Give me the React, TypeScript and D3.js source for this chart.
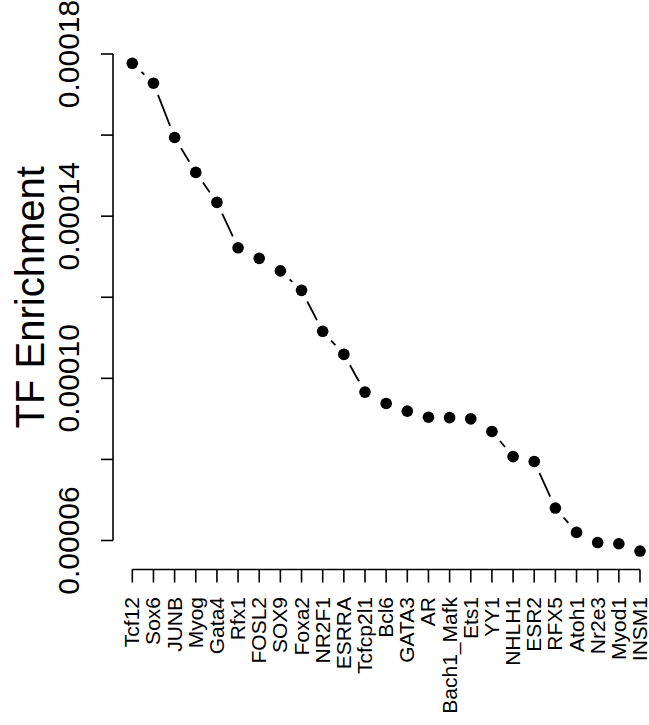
import React from "react";
import * as d3 from "d3";

const categories: string[] = [
  "Tcf12", "Sox6", "JUNB", "Myog", "Gata4", "Rfx1", "FOSL2", "SOX9", "Foxa2",
  "NR2F1", "ESRRA", "Tcfcp2l1", "Bcl6", "GATA3", "AR", "Bach1_Mafk", "Ets1",
  "YY1", "NHLH1", "ESR2", "RFX5", "Atoh1", "Nr2e3", "Myod1", "INSM1",
];

const enrichment: number[] = [
  0.0001777, 0.0001728, 0.0001594, 0.0001508, 0.0001434, 0.0001322, 0.0001296,
  0.0001265, 0.0001217, 0.0001116, 0.0001059, 0.0000966, 0.0000938, 0.0000919,
  0.0000904, 0.0000903, 0.00009, 0.0000869, 0.0000807, 0.0000795, 0.000068,
  0.000062, 0.0000595, 0.0000592, 0.0000574,
];

const yTicks: number[] = [0.00006, 0.00008, 0.0001, 0.00012, 0.00014, 0.00016, 0.00018];
const yTickLabels: string[] = ["0.00006", "", "0.00010", "", "0.00014", "", "0.00018"];

const W = 649;
const H = 725;
const FONT = "'Liberation Sans', Arial, Helvetica, sans-serif";

export default function App() {
  const x = d3.scaleLinear().domain([0, categories.length - 1]).range([132.3, 640]);
  const y = d3.scaleLinear().domain([0.00006, 0.00018]).range([540.5, 54]);

  const axisX = 113;
  const axisY = 569.5;
  const tickLen = 12;
  const gap = 12.5;

  const pts = enrichment.map((v, i) => [x(i), y(v)] as [number, number]);
  const segs: [number, number, number, number][] = [];
  for (let i = 0; i < pts.length - 1; i++) {
    const [x0, y0] = pts[i];
    const [x1, y1] = pts[i + 1];
    const dx = x1 - x0;
    const dy = y1 - y0;
    const len = Math.sqrt(dx * dx + dy * dy);
    if (len > 2 * gap) {
      const ux = dx / len;
      const uy = dy / len;
      segs.push([x0 + ux * gap, y0 + uy * gap, x1 - ux * gap, y1 - uy * gap]);
    }
  }

  return (
    <div style={{ position: "absolute", left: 0, top: 0 }}>
      <svg width={W} height={H} style={{ display: "block", background: "#fff" }}>
        {/* y axis */}
        <line x1={axisX} x2={axisX} y1={y(0.00018)} y2={y(0.00006)} stroke="#000" strokeWidth={1.6} />
        {yTicks.map((t, i) => (
          <g key={"yt" + i}>
            <line x1={axisX - tickLen} x2={axisX} y1={y(t)} y2={y(t)} stroke="#000" strokeWidth={1.6} />
            {yTickLabels[i] && (
              <text
                transform={`translate(79,${y(t)}) rotate(-90)`}
                textAnchor="middle"
                fontFamily={FONT}
                fontSize={30}
                fill="#000"
              >
                {yTickLabels[i]}
              </text>
            )}
          </g>
        ))}
        <text
          transform={`translate(44,${(y(0.00018) + y(0.00006)) / 2}) rotate(-90)`}
          textAnchor="middle"
          fontFamily={FONT}
          fontSize={40}
          fill="#000"
        >
          TF Enrichment
        </text>

        {/* x axis */}
        <line x1={x(0)} x2={x(categories.length - 1)} y1={axisY} y2={axisY} stroke="#000" strokeWidth={1.6} />
        {categories.map((c, i) => (
          <g key={"xt" + i}>
            <line x1={x(i)} x2={x(i)} y1={axisY} y2={axisY + 13} stroke="#000" strokeWidth={1.6} />
            <text
              transform={`translate(${x(i) + 7},597) rotate(-90)`}
              textAnchor="end"
              fontFamily={FONT}
              fontSize={21}
              fill="#000"
            >
              {c}
            </text>
          </g>
        ))}

        {/* line segments (type = "b") */}
        {segs.map((s, i) => (
          <line key={"s" + i} x1={s[0]} y1={s[1]} x2={s[2]} y2={s[3]} stroke="#000" strokeWidth={1.8} />
        ))}
        {/* points */}
        {pts.map((p, i) => (
          <circle key={"p" + i} cx={p[0]} cy={p[1]} r={5.8} fill="#000" />
        ))}
      </svg>
    </div>
  );
}
